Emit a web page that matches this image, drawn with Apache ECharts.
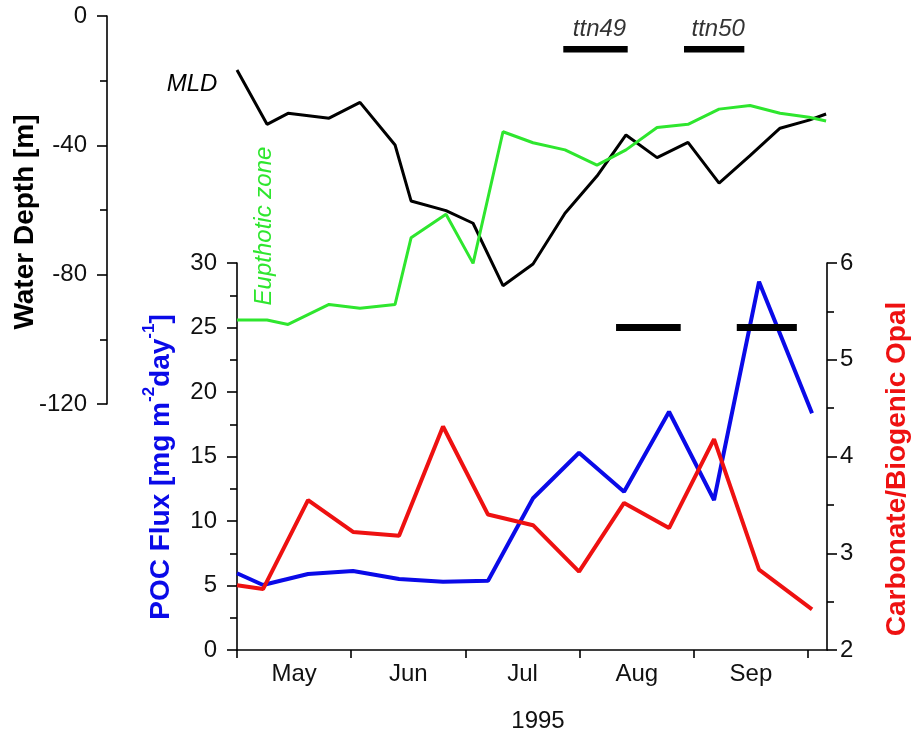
<!DOCTYPE html>
<html><head><meta charset="utf-8">
<script src="https://cdn.jsdelivr.net/npm/echarts@6/dist/echarts.min.js"></script>
<style>html,body{margin:0;padding:0;background:#fff}#c{width:912px;height:733px}</style>
</head><body><div id="c"></div><script>
// x values: months since 1 May 1995 (month ticks equally spaced in the source figure)
const monthNames = ['May', 'Jun', 'Jul', 'Aug', 'Sep'];
const monthTicks = [0, 1, 2, 3, 4, 5];
const monthLabelPos = [0.5, 1.5, 2.5, 3.5, 4.5];

const depthTime = [0, 0.263, 0.447, 0.806, 1.077, 1.384, 1.524, 1.830, 2.067, 2.329, 2.592, 2.872, 3.152, 3.406, 3.678, 3.949, 4.221, 4.492, 4.755, 5.009, 5.158];
const mld = [-16.7, -33.5, -30.1, -31.6, -26.7, -39.9, -57.2, -60.2, -64.1, -83.4, -76.7, -61.0, -49.5, -36.8, -43.8, -39.1, -51.7, -43.2, -34.7, -32.2, -30.3];
const euphotic = [-94.0, -94.0, -95.4, -89.2, -90.4, -89.2, -68.6, -61.3, -76.5, -35.8, -39.2, -41.4, -46.1, -41.4, -34.5, -33.5, -28.8, -27.7, -30.1, -31.3, -32.5];

const fluxTime = [0, 0.228, 0.622, 1.016, 1.419, 1.804, 2.198, 2.592, 2.995, 3.389, 3.783, 4.177, 4.571, 5.035];
const pocFlux = [5.95, 5.04, 5.89, 6.12, 5.50, 5.29, 5.37, 11.76, 15.29, 12.27, 18.47, 11.63, 28.55, 18.35];
const carbOpal = [2.67, 2.63, 3.55, 3.22, 3.18, 4.31, 3.40, 3.29, 2.81, 3.52, 3.26, 4.18, 2.83, 2.42];

const cruiseNames = ['ttn49', 'ttn50'];
const cruiseTop = [[2.857, 3.421], [3.914, 4.442]];
const cruiseTopDepth = -10.3;
const cruiseBottom = [[3.319, 3.885], [4.376, 4.902]];
const cruiseBottomFlux = 25;

const X_MAX = 5.166;
const FONT = 'Liberation Sans, Arial, Helvetica, sans-serif';
const zip = (a, b) => a.map((v, i) => [v, b[i]]);

const chart = echarts.init(document.getElementById('c'), null, { renderer: 'canvas' });

const series = [
  { type: 'line', xAxisIndex: 0, yAxisIndex: 0, data: zip(depthTime, mld), symbol: 'none',
    lineStyle: { color: '#000', width: 3 }, z: 3, silent: true },
  { type: 'line', xAxisIndex: 0, yAxisIndex: 0, data: zip(depthTime, euphotic), symbol: 'none',
    lineStyle: { color: '#2ee62e', width: 3 }, z: 3, silent: true },
  { type: 'line', xAxisIndex: 1, yAxisIndex: 1, data: zip(fluxTime, pocFlux), symbol: 'none',
    lineStyle: { color: '#0a0ae8', width: 4 }, z: 4, silent: true },
  { type: 'line', xAxisIndex: 1, yAxisIndex: 2, data: zip(fluxTime, carbOpal), symbol: 'none',
    lineStyle: { color: '#ee1111', width: 4 }, z: 4, silent: true }
];
cruiseTop.forEach((c, i) => {
  series.push({ type: 'line', xAxisIndex: 0, yAxisIndex: 0, symbol: 'none', silent: true, z: 6,
    data: [[c[0], cruiseTopDepth], [c[1], cruiseTopDepth]],
    lineStyle: { color: '#000', width: 6.5, cap: 'butt' } });
  series.push({ type: 'scatter', xAxisIndex: 0, yAxisIndex: 0, symbolSize: 0, silent: true, z: 6,
    data: [[(c[0] + c[1]) / 2, cruiseTopDepth]],
    label: { show: true, position: 'top', distance: 8, offset: [4, 0], formatter: cruiseNames[i],
      fontStyle: 'italic', fontSize: 24, color: '#000', fontFamily: FONT } });
});
cruiseBottom.forEach((c) => {
  series.push({ type: 'line', xAxisIndex: 1, yAxisIndex: 1, symbol: 'none', silent: true, z: 6,
    data: [[c[0], cruiseBottomFlux], [c[1], cruiseBottomFlux]],
    lineStyle: { color: '#000', width: 7, cap: 'butt' } });
});

const axisLine = { show: true, onZero: false, lineStyle: { color: '#000', width: 1.6 } };
const tickStyle = { color: '#000', width: 1.6 };
const labelStyle = { fontSize: 24, color: '#111', fontFamily: FONT };

chart.setOption({
  animation: false,
  backgroundColor: '#fff',
  textStyle: { fontFamily: FONT },
  grid: [
    { left: 237, top: 16, width: 590, height: 388 },
    { left: 237, top: 263, width: 590, height: 387 }
  ],
  xAxis: [
    { gridIndex: 0, type: 'value', min: 0, max: X_MAX, show: false },
    { gridIndex: 1, type: 'value', min: 0, max: X_MAX, axisLine: axisLine,
      splitLine: { show: false },
      axisTick: { show: true, length: 8, lineStyle: tickStyle, customValues: monthTicks },
      axisLabel: Object.assign({ margin: 12, customValues: monthLabelPos,
        formatter: v => monthNames[Math.floor(v)] || '' }, labelStyle) }
  ],
  yAxis: [
    { gridIndex: 0, type: 'value', min: -120, max: 0, interval: 40, offset: 130,
      axisLine: axisLine, splitLine: { show: false },
      axisTick: { show: true, length: 10, lineStyle: tickStyle },
      minorTick: { show: true, splitNumber: 2, length: 7, lineStyle: tickStyle },
      axisLabel: Object.assign({ margin: 20 }, labelStyle) },
    { gridIndex: 1, type: 'value', min: 0, max: 30, interval: 5,
      axisLine: axisLine, splitLine: { show: false },
      axisTick: { show: true, length: 10, lineStyle: tickStyle },
      minorTick: { show: true, splitNumber: 2, length: 7, lineStyle: tickStyle },
      axisLabel: Object.assign({ margin: 20 }, labelStyle) },
    { gridIndex: 1, type: 'value', position: 'right', min: 2, max: 6, interval: 1,
      axisLine: axisLine, splitLine: { show: false },
      axisTick: { show: true, length: 10, lineStyle: tickStyle },
      minorTick: { show: true, splitNumber: 2, length: 7, lineStyle: tickStyle },
      axisLabel: Object.assign({ margin: 13 }, labelStyle) }
  ],
  series: series,
  graphic: [
    { type: 'text', x: 25, y: 222, rotation: Math.PI / 2, silent: true,
      style: { text: 'Water Depth [m]', fill: '#000', font: 'bold 28px ' + FONT, align: 'center', verticalAlign: 'middle' } },
    { type: 'text', x: 158, y: 467, rotation: Math.PI / 2, silent: true,
      style: { text: '{a|POC Flux [mg m}{s|-2}{a|day}{s|-1}{a|]}', align: 'center', verticalAlign: 'middle',
        rich: {
          a: { fill: '#0a0ae8', fontSize: 28, fontWeight: 'bold', fontFamily: FONT, lineHeight: 34, verticalAlign: 'bottom' },
          s: { fill: '#0a0ae8', fontSize: 17, fontWeight: 'bold', fontFamily: FONT, lineHeight: 20, verticalAlign: 'top' }
        } } },
    { type: 'text', x: 897, y: 469, rotation: Math.PI / 2, silent: true,
      style: { text: 'Carbonate/Biogenic Opal', fill: '#ee1111', font: 'bold 28px ' + FONT, align: 'center', verticalAlign: 'middle' } },
    { type: 'text', x: 192, y: 84, silent: true,
      style: { text: 'MLD', fill: '#000', font: 'italic 24px ' + FONT, align: 'center', verticalAlign: 'middle' } },
    { type: 'text', x: 264, y: 226, rotation: Math.PI / 2, silent: true,
      style: { text: 'Eupthotic zone', fill: '#2ee62e', font: 'italic 24px ' + FONT, align: 'center', verticalAlign: 'middle' } },
    { type: 'text', x: 538, y: 721, silent: true,
      style: { text: '1995', fill: '#111', font: '24px ' + FONT, align: 'center', verticalAlign: 'middle' } }
  ]
});
</script></body></html>
